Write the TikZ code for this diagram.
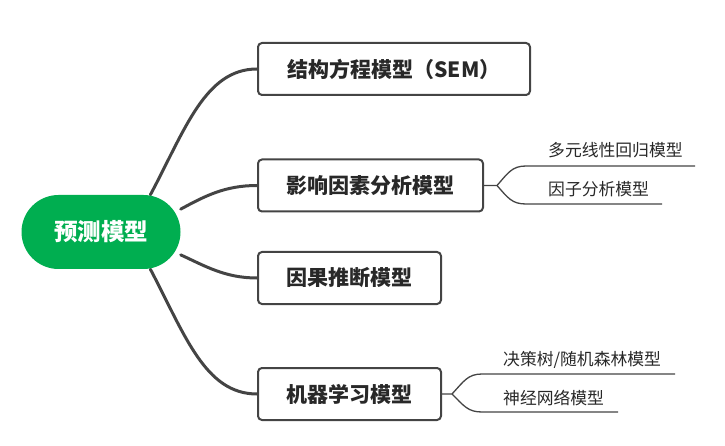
\documentclass[tikz,border=0pt]{standalone}
\usepackage{fontspec}
\newfontfamily\cjk{Noto Sans CJK SC}
\usepackage{tikz}
\usetikzlibrary{backgrounds}

\definecolor{rootgreen}{RGB}{0,174,80}
\definecolor{edge}{RGB}{68,68,68}
\definecolor{ink}{RGB}{40,40,40}

\begin{document}
\begin{tikzpicture}[
  x=1pt, y=-1pt, font=\cjk,
  root/.style={rectangle, rounded corners=37pt, fill=rootgreen, text=white,
               minimum width=159pt, minimum height=74pt,
               font=\cjk\bfseries\fontsize{23.5}{27}\selectfont},
  b/.style={rectangle, rounded corners=4pt, draw=edge, line width=2pt, fill=white,
            minimum height=52pt, text=ink, font=\cjk\bfseries\fontsize{21}{25}\selectfont},
  leaf/.style={anchor=west, inner sep=0pt, text=ink, font=\cjk\fontsize{16.8}{20}\selectfont},
  a/.style={draw=edge, line width=3pt, line cap=round},
  t/.style={draw=edge, line width=1.3pt},
]
\useasboundingbox (0,0) rectangle (725,446);

% root and main boxes
\node[root] (root) at (101,232) {预测模型};
\node[b, minimum width=272pt] (sem)   at (394,69)    {结构方程模型（SEM）};
\node[b, minimum width=225pt] (infl)  at (370.5,185.5) {影响因素分析模型};
\node[b, minimum width=183pt] (cause) at (349.5,278) {因果推断模型};
\node[b, minimum width=183pt] (ml)    at (349.5,394) {机器学习模型};

% main branches
\begin{scope}[on background layer]
\draw[a] (root.37) .. controls (185,130) and (205,69) .. (sem.west);
\draw[a] (root.16) .. controls (205,196) and (225,185.5) .. (infl.west);
\draw[a] (root.-16) .. controls (205,266) and (225,278) .. (cause.west);
\draw[a] (root.-37) .. controls (185,335) and (205,394) .. (ml.west);
\end{scope}

% sub branches of infl
\node[leaf] (lin)  at (548,150) {多元线性回归模型};
\node[leaf] (fac)  at (548,189) {因子分析模型};
\coordinate (j2) at (497,185.5);
\coordinate (lin0) at (526,166); \coordinate (lin1) at (695,166);
\coordinate (fac0) at (526,204); \coordinate (fac1) at (662,204);
\draw[t] (infl.east) -- (j2) .. controls (508,173) and (512,166) .. (lin0) -- (lin1);
\draw[t] (j2) .. controls (508,198) and (512,204) .. (fac0) -- (fac1);

% sub branches of ml
\node[leaf] (tree) at (503,360) {决策树/随机森林模型};
\node[leaf] (nn)   at (503,398) {神经网络模型};
\coordinate (j4) at (452,394);
\coordinate (tree0) at (482,374); \coordinate (tree1) at (675,374);
\coordinate (nn0) at (482,412); \coordinate (nn1) at (618,412);
\draw[t] (ml.east) -- (j4) .. controls (464,381) and (468,374) .. (tree0) -- (tree1);
\draw[t] (j4) .. controls (464,406) and (468,412) .. (nn0) -- (nn1);
\end{tikzpicture}
\end{document}
